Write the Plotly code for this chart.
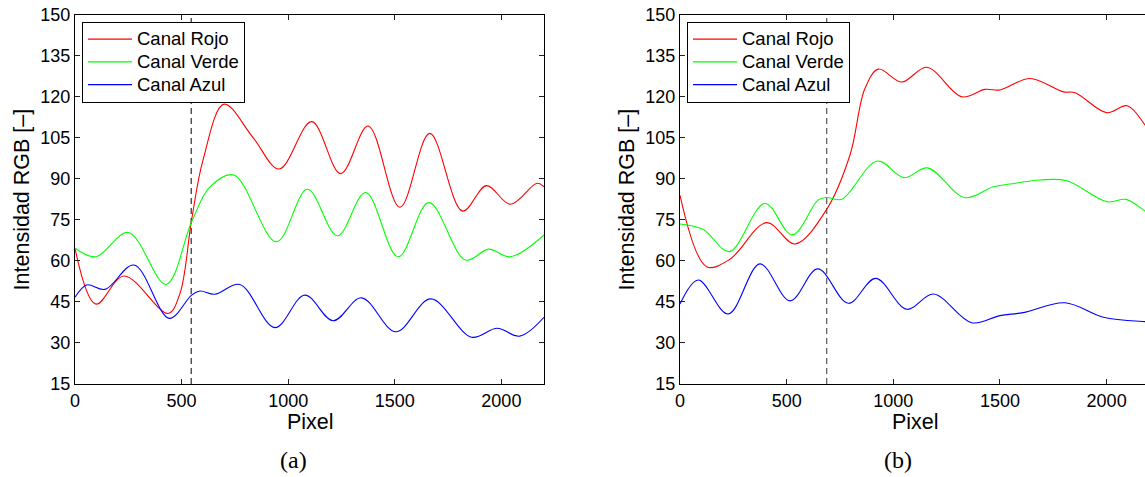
import plotly.graph_objects as go

# ---------------- data ----------------
# Panel (a)
a_red_x = [0, 98, 230, 437, 492, 547, 601, 699, 836, 958, 1110, 1246, 1375, 1524, 1664, 1818, 1930, 2042, 2167, 2200]
a_red_y = [64.6, 44.2, 54.5, 40.8, 48.0, 75.0, 97.0, 117.3, 105.0, 93.6, 110.9, 91.9, 109.3, 79.6, 106.6, 78.2, 87.5, 80.7, 88.4, 87.1]

a_green_x = [0, 98, 250, 427, 547, 633, 745, 945, 1090, 1231, 1363, 1516, 1660, 1832, 1941, 2042, 2200]
a_green_y = [64.6, 61.5, 70.4, 51.4, 74.3, 87.1, 91.4, 67.0, 86.2, 69.2, 85.0, 61.5, 81.3, 60.3, 64.3, 61.5, 69.5]

a_blue_x = [0, 55, 141, 277, 442, 547, 586, 656, 773, 938, 1078, 1211, 1344, 1505, 1669, 1860, 1980, 2086, 2200]
a_blue_y = [46.7, 51.2, 49.6, 58.5, 39.0, 47.5, 49.0, 47.8, 51.4, 35.6, 47.5, 38.1, 46.5, 34.1, 46.1, 32.1, 35.4, 32.5, 39.4]

# Panel (b)
b_red_x = [0, 125, 234, 406, 539, 688, 797, 867, 930, 1040, 1157, 1321, 1430, 1500, 1641, 1797, 1852, 2000, 2097, 2180, 2200]
b_red_y = [84.0, 57.9, 60.6, 74.0, 66.2, 78.9, 98.7, 123.0, 130.1, 125.4, 130.8, 120.0, 122.7, 122.5, 126.7, 121.8, 121.5, 114.2, 116.7, 109.7, 107.5]

b_green_x = [0, 109, 231, 398, 526, 648, 688, 758, 925, 1050, 1160, 1336, 1469, 1547, 1688, 1813, 2003, 2091, 2180, 2200]
b_green_y = [73.5, 71.5, 63.4, 81.0, 69.5, 82.3, 83.2, 82.5, 96.5, 90.4, 94.0, 83.1, 87.1, 88.1, 89.6, 89.3, 81.6, 82.5, 78.2, 77.0]

b_blue_x = [0, 86, 226, 375, 516, 646, 789, 917, 1064, 1188, 1367, 1500, 1609, 1805, 1985, 2180, 2200]
b_blue_y = [44.2, 53.0, 40.6, 58.9, 45.4, 57.1, 44.5, 53.6, 42.3, 47.9, 37.4, 40.0, 41.1, 44.7, 39.4, 37.8, 37.7]

# dashed markers
a_mark_x = 545
b_mark_x = 688
y_limits = [15, 150]

series_names = ["Canal Rojo", "Canal Verde", "Canal Azul"]
series_colors = ["#ff0000", "#00ff00", "#0000ff"]
x_ticks = [0, 500, 1000, 1500, 2000]
y_ticks = [15, 30, 45, 60, 75, 90, 105, 120, 135, 150]

# ---------------- figure ----------------
W, H = 1145, 477
FONT = "Liberation Sans, Arial, Helvetica, sans-serif"
LEGEND_TEXT_PX = 18.5

fig = go.Figure()

panels = [
    ("x", "y", "legend", [(a_red_x, a_red_y), (a_green_x, a_green_y), (a_blue_x, a_blue_y)], a_mark_x, "#000000"),
    ("x2", "y2", "legend2", [(b_red_x, b_red_y), (b_green_x, b_green_y), (b_blue_x, b_blue_y)], b_mark_x, "#333333"),
]

for xa, ya, leg, series, mark, mcol in panels:
    fig.add_trace(go.Scatter(
        x=[mark, mark], y=y_limits, mode="lines", xaxis=xa, yaxis=ya,
        line=dict(color=mcol, width=1, dash="6px,4px"), showlegend=False, hoverinfo="skip"))
    for (sx, sy), name, col in zip(series, series_names, series_colors):
        fig.add_trace(go.Scatter(
            x=sx, y=sy, mode="lines", xaxis=xa, yaxis=ya, legend=leg,
            name=f"<span style='font-size:{LEGEND_TEXT_PX}px'>{name}</span>",
            line=dict(color=col, width=1.1, shape="spline", smoothing=1.0)))

left_dom = [75 / W, 544 / W]
right_dom = [680 / W, 1.0]
y_dom = [1 - 384 / H, 1 - 14.7 / H]

axis_common = dict(showline=True, linecolor="black", linewidth=1, ticks="inside", ticklen=5,
                   tickcolor="#222", showgrid=False, zeroline=False, automargin=False,
                   tickfont=dict(family=FONT, size=18, color="black"))

legend_common = dict(xanchor="left", yanchor="top", bgcolor="white",
                     bordercolor="black", borderwidth=1, font=dict(family=FONT, size=15.2),
                     tracegroupgap=0, itemwidth=44)

fig.update_layout(
    template="none",
    width=W, height=H, margin=dict(l=0, r=0, t=0, b=0, pad=0, autoexpand=False),
    paper_bgcolor="white", plot_bgcolor="white",
    font=dict(family=FONT, color="black"),
    xaxis=dict(domain=left_dom, range=[0, 2200], tickvals=x_ticks, mirror="ticks", anchor="y", **axis_common),
    yaxis=dict(domain=y_dom, range=y_limits, tickvals=y_ticks, mirror="ticks", anchor="x", **axis_common),
    xaxis2=dict(domain=right_dom, range=[0, 2180], tickvals=x_ticks, mirror="ticks", anchor="y2", **axis_common),
    yaxis2=dict(domain=y_dom, range=y_limits, tickvals=y_ticks, mirror=False, anchor="x2", **axis_common),
    legend=dict(x=82 / W, y=1 - 21.7 / H, **legend_common),
    legend2=dict(x=687 / W, y=1 - 21.7 / H, **legend_common),
    showlegend=True,
)

annotations = [
    dict(text="Intensidad RGB [–]", x=22 / W, y=1 - 199.4 / H, textangle=-90),
    dict(text="Intensidad RGB [–]", x=627 / W, y=1 - 199.4 / H, textangle=-90),
    dict(text="Pixel", x=310 / W, y=1 - 421.7 / H),
    dict(text="Pixel", x=915 / W, y=1 - 421.7 / H),
]
for a in annotations:
    fig.add_annotation(xref="paper", yref="paper", showarrow=False, xanchor="center", yanchor="middle",
                       font=dict(family=FONT, size=21.5, color="black"), **a)

for txt, cx in [("(a)", 293), ("(b)", 898)]:
    fig.add_annotation(text=txt, xref="paper", yref="paper", x=cx / W, y=1 - 460 / H,
                       showarrow=False, xanchor="center", yanchor="middle",
                       font=dict(family="Liberation Serif, DejaVu Serif, serif", size=24, color="black"))

fig.write_html("out.html")
